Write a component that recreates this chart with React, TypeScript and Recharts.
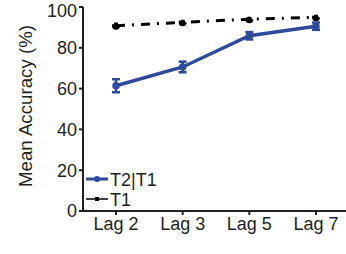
import { LineChart, Line, XAxis, YAxis, ErrorBar } from 'recharts'

const lags = ['Lag 2', 'Lag 3', 'Lag 5', 'Lag 7']
const t2Acc = [61.4, 70.6, 85.9, 90.6]
const t2Err = [3.2, 2.6, 1.8, 1.8]
const t1Acc = [90.8, 92.5, 94.0, 95.0]
const t1Err = [1.6, 1.2, 1.2, 1.2]
const yTicks = [0, 20, 40, 60, 80, 100]

const INK = '#231f20'
const BLUE = '#2e4a9c'
const FONT = '"Liberation Sans", Arial, sans-serif'

const data = lags.map((lag, i) => ({
  lag,
  t2: t2Acc[i],
  t2e: t2Err[i],
  t1: t1Acc[i],
  t1e: t1Err[i],
}))

// legend sits inside the plot, bottom-left
function InlineLegend() {
  return (
    <g fontFamily={FONT} fontSize={18} fill={INK}>
      <line x1={86} y1={179} x2={108} y2={179} stroke={BLUE} strokeWidth={3} />
      <circle cx={97} cy={179} r={3} fill={BLUE} />
      <text x={110} y={185.5}>T2|T1</text>
      <line x1={86} y1={199} x2={108} y2={199} stroke="#000" strokeWidth={1.5} />
      <rect x={95} y={197} width={4} height={4} fill="#000" />
      <text x={110} y={205.5}>T1</text>
    </g>
  )
}

export default function App() {
  return (
    <div style={{ position: 'absolute', left: 0, top: 0, background: '#fff' }}>
      <LineChart width={346} height={254} data={data} margin={{ top: 7, right: 0, bottom: 13, left: 0 }}>
        <XAxis
          dataKey="lag"
          height={30}
          padding={{ left: 33, right: 30 }}
          stroke={INK}
          strokeWidth={2}
          tickSize={4}
          tick={{ fill: INK, fontSize: 18, fontFamily: FONT }}
          interval={0}
        />
        <YAxis
          domain={[0, 100]}
          ticks={yTicks}
          width={83}
          stroke={INK}
          strokeWidth={2}
          tickSize={4}
          tick={{ fill: INK, fontSize: 18, fontFamily: FONT }}
          label={{
            value: 'Mean Accuracy (%)',
            angle: -90,
            position: 'insideLeft',
            dx: 20,
            dy: -3,
            style: { fill: INK, fontSize: 18.7, fontFamily: FONT, textAnchor: 'middle' },
          }}
        />
        <Line
          dataKey="t1"
          stroke="#000"
          strokeWidth={3}
          strokeDasharray="9 7 2 7"
          dot={{ r: 2.5, fill: '#000', stroke: '#000' }}
          isAnimationActive={false}
        >
          <ErrorBar dataKey="t1e" width={0} stroke="#000" strokeWidth={4} />
        </Line>
        <Line
          dataKey="t2"
          stroke={BLUE}
          strokeWidth={3.5}
          dot={{ r: 2, fill: BLUE, stroke: BLUE }}
          isAnimationActive={false}
        >
          <ErrorBar dataKey="t2e" width={4} stroke={BLUE} strokeWidth={2.5} />
        </Line>
        <InlineLegend />
      </LineChart>
    </div>
  )
}
